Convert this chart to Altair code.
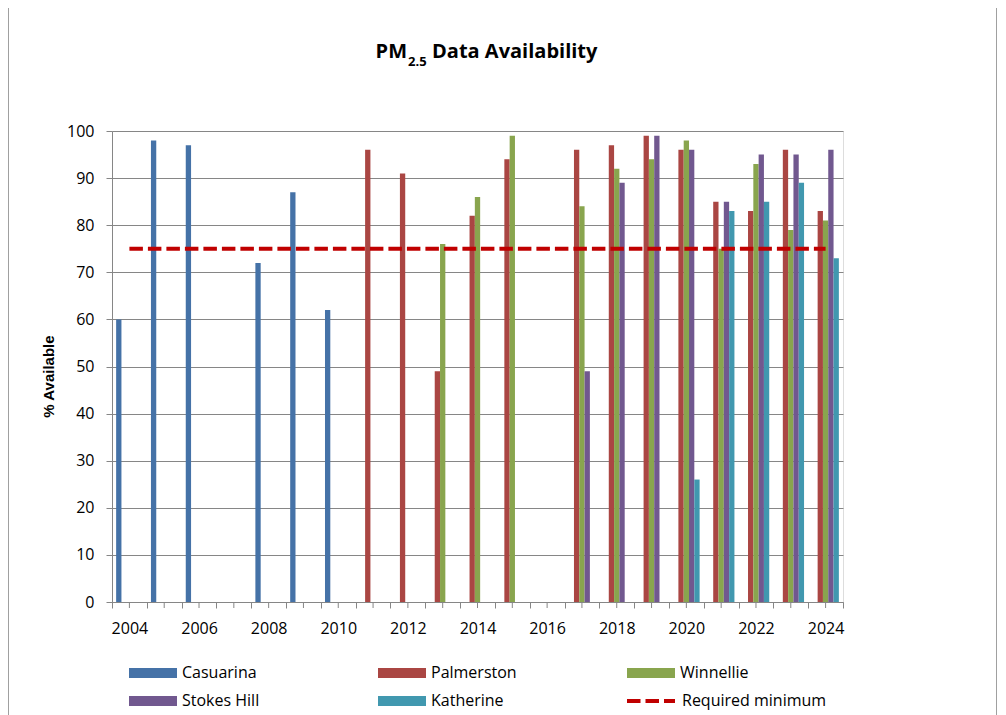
import altair as alt
import pandas as pd

# ---------------- data ----------------
years = [2004, 2005, 2006, 2007, 2008, 2009, 2010, 2011, 2012, 2013, 2014,
         2015, 2016, 2017, 2018, 2019, 2020, 2021, 2022, 2023, 2024]

series_names = ["Casuarina", "Palmerston", "Winnellie", "Stokes Hill", "Katherine"]
series_colors = ["#4572A7", "#AA4643", "#89A54E", "#71588F", "#4198AF"]

casuarina = [60, 98, 97, None, 72, 87, 62, None, None, None, None,
             None, None, None, None, None, None, None, None, None, None]
palmerston = [None, None, None, None, None, None, None, 96, 91, 49, 82,
              94, None, 96, 97, 99, 96, 85, 83, 96, 83]
winnellie = [None, None, None, None, None, None, None, None, None, 76, 86,
             99, None, 84, 92, 94, 98, 75, 93, 79, 81]
stokes_hill = [None, None, None, None, None, None, None, None, None, None, None,
               None, None, 49, 89, 99, 96, 85, 95, 95, 96]
katherine = [None, None, None, None, None, None, None, None, None, None, None,
             None, None, None, None, None, 26, 83, 85, 89, 73]

required_minimum = 75
required_label = "Required minimum"

title_main = "PM"
title_sub = "2.5"
title_rest = "Data Availability"
y_title = "% Available"

# ---------------- tables ----------------
rows = []
for name, vals in zip(series_names, [casuarina, palmerston, winnellie, stokes_hill, katherine]):
    for yr, v in zip(years, vals):
        if v is not None:
            rows.append({"year": yr, "series": name, "value": v})
bars_df = pd.DataFrame(rows)

line_df = pd.DataFrame({"year": years,
                        "value": [required_minimum for _ in years],
                        "label": [required_label for _ in years]})
years_df = pd.DataFrame({"year": years})

W, H = 731, 471
GRAY = "#868686"
FONT = "Open Sans"

x_enc = alt.X("year:O",
              scale=alt.Scale(paddingInner=0, paddingOuter=0),
              axis=alt.Axis(title=None, labelAngle=0,
                            labelExpr="datum.value % 2 == 0 ? datum.label : ''",
                            tickBand="extent", tickSize=6, tickColor=GRAY,
                            domainColor=GRAY, labelFont=FONT, labelFontSize=16,
                            labelColor="#000000", labelPadding=12, grid=False))

y_enc = alt.Y("value:Q",
              scale=alt.Scale(domain=[0, 100], nice=False),
              axis=alt.Axis(title=y_title,
                            values=list(range(0, 101, 5)),
                            labelExpr="datum.value % 10 == 0 ? datum.label : ''",
                            tickSize=6, tickColor=GRAY, domainColor=GRAY,
                            gridColor=GRAY,
                            gridOpacity={"condition": {"test": "datum.value % 10 == 0", "value": 1}, "value": 0},
                            labelFont=FONT, labelFontSize=16, labelColor="#000000",
                            labelPadding=12,
                            titleFont="Liberation Sans", titleFontSize=15,
                            titleFontWeight="bold", titleColor="#000000",
                            titleAngle=270, titleBaseline="middle",
                            titleX=-63.5, titleY=245))

bars = alt.Chart(bars_df).mark_bar().encode(
    x=x_enc,
    xOffset=alt.XOffset("series:N",
                        scale=alt.Scale(domain=series_names, paddingInner=0, paddingOuter=0.78)),
    y=y_enc,
    color=alt.Color("series:N",
                    scale=alt.Scale(domain=series_names, range=series_colors),
                    legend=alt.Legend(title=None, orient="none", legendX=17, legendY=534,
                                      direction="horizontal",
                                      columns=3, columnPadding=110, rowPadding=12,
                                      gridAlign="all", clipHeight=16, padding=0,
                                      symbolType="M-1,-0.2083H1V0.2083H-1Z",
                                      symbolSize=2304, symbolStrokeWidth=0,
                                      symbolOpacity=1, labelOffset=5,
                                      labelFont=FONT, labelFontSize=16,
                                      labelColor="#000000", labelLimit=300)),
)

mid_ticks = alt.Chart(years_df).mark_rule(color=GRAY, strokeWidth=1).encode(
    x=alt.X("year:O"),
    y=alt.value(H),
    y2=alt.value(H + 6),
)

req_line = alt.Chart(line_df).mark_line(color="#C00000", strokeWidth=4).encode(
    x=alt.X("year:O"),
    y=alt.Y("value:Q"),
    strokeDash=alt.StrokeDash("label:N",
                              scale=alt.Scale(domain=[required_label], range=[[13.5, 5]]),
                              legend=alt.Legend(title=None, orient="none",
                                                legendX=513, legendY=562,
                                                clipHeight=16, padding=0,
                                                symbolType="stroke", symbolSize=2304,
                                                symbolStrokeColor="#C00000",
                                                symbolStrokeWidth=4, labelOffset=5,
                                                labelFont=FONT, labelFontSize=16,
                                                labelColor="#000000", labelLimit=300)),
)

t1 = alt.Chart(pd.DataFrame({"t": [title_main]})).mark_text(
    align="right", baseline="alphabetic", font=FONT, fontWeight="bold",
    fontSize=20, color="#000000").encode(text="t:N", x=alt.value(295), y=alt.value(-72.7))
t2 = alt.Chart(pd.DataFrame({"t": [title_sub]})).mark_text(
    align="left", baseline="alphabetic", font=FONT, fontWeight="bold",
    fontSize=13, color="#000000").encode(text="t:N", x=alt.value(296), y=alt.value(-65))
t3 = alt.Chart(pd.DataFrame({"t": [title_rest]})).mark_text(
    align="left", baseline="alphabetic", font=FONT, fontWeight="bold",
    fontSize=20, color="#000000").encode(text="t:N", x=alt.value(320), y=alt.value(-72.7))

frame_left = alt.Chart(pd.DataFrame({"side": ["left"]})).mark_rule(
    color="#A0A0A0", strokeWidth=1).encode(
    x=alt.value(-103.5), y=alt.value(-131), y2=alt.value(H + 130))
frame_right = alt.Chart(pd.DataFrame({"side": ["right"]})).mark_rule(
    color="#A0A0A0", strokeWidth=1).encode(
    x=alt.value(884.5), y=alt.value(-131), y2=alt.value(H + 130))

chart = alt.layer(bars, mid_ticks, req_line, t1, t2, t3, frame_left, frame_right).resolve_scale(
    strokeDash="independent"
).properties(
    width=W, height=H,
    autosize=alt.AutoSizeParams(type="none"),
    padding={"left": 104, "top": 123, "right": 154, "bottom": 120},
).configure_view(stroke=None).configure(background="#FFFFFF")

chart.save("out.html", embed_options={"renderer": "svg", "actions": False})
